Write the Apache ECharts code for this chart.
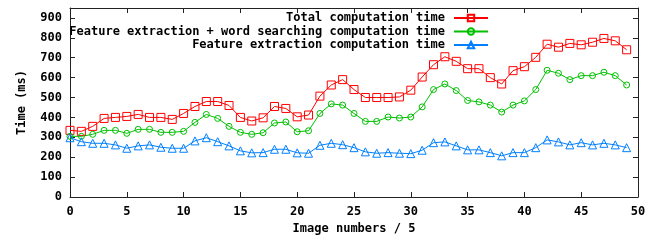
<!DOCTYPE html>
<html>
<head>
<meta charset="utf-8">
<script src="https://cdn.jsdelivr.net/npm/echarts@6/dist/echarts.min.js"></script>
<style>html,body{margin:0;padding:0;background:#fff}#c{width:667px;height:240px}</style>
</head>
<body>
<div id="c"></div>
<script>
const imageNumbers = [0,1,2,3,4,5,6,7,8,9,10,11,12,13,14,15,16,17,18,19,20,21,22,23,24,25,26,27,28,29,30,31,32,33,34,35,36,37,38,39,40,41,42,43,44,45,46,47,48,49];
const totalTime = [335,330,355,395,400,405,415,400,400,390,420,455,480,480,460,400,382,398,455,445,403,412,507,563,590,540,500,500,500,503,537,603,665,705,682,645,645,600,568,635,655,702,768,753,772,765,778,797,785,740];
const featWordTime = [305,305,315,335,335,320,340,340,325,325,330,375,415,395,355,325,315,323,372,377,328,333,420,468,462,420,380,380,402,397,402,453,540,568,535,485,478,462,427,462,483,540,637,622,590,610,610,627,610,563];
const featTime = [298,278,270,270,262,245,257,262,250,245,245,282,298,278,257,232,222,223,240,240,222,220,260,270,263,248,227,220,223,220,218,235,273,277,257,237,237,223,207,223,223,248,287,277,262,273,262,270,262,248];
const seriesNames = ['Total computation time','Feature extraction + word searching computation time','Feature extraction computation time'];
const xTicks = {min:0, max:50, interval:5};
const yTicks = {min:0, max:950, interval:100};

const FONT = '"DejaVu Sans Mono", "Liberation Mono", monospace';
const pairs = arr => imageNumbers.map((x,i)=>[x, arr[i]]);
const colors = ['#ff0000','#00c000','#0080ff'];
const symbols = ['rect','circle','triangle'];
const sizes = [8,6,8];
const datasets = [totalTime, featWordTime, featTime];

const axisLineStyle = {show:true, onZero:false, lineStyle:{color:'#222', width:1}};
const tickStyle = {show:true, inside:true, length:5, lineStyle:{color:'#222'}};
const labelFont = {fontFamily:FONT, fontWeight:'bold', fontSize:12, color:'#000'};

const chart = echarts.init(document.getElementById('c'), null, {renderer:'canvas'});
chart.setOption({
  animation:false,
  backgroundColor:'#fff',
  grid:{left:70, right:29, top:8, bottom:42},
  legend: seriesNames.map((n,i)=>({
    data:[n], orient:'vertical', align:'right', right:178, top:12+i*13.5, padding:0,
    itemWidth:34, itemHeight:8,
    textStyle:Object.assign({}, labelFont, {padding:[0,4,0,0]})
  })),
  xAxis:[
    {type:'value', min:xTicks.min, max:xTicks.max, interval:xTicks.interval, position:'bottom',
     name:'Image numbers / 5', nameLocation:'middle', nameGap:26,
     nameTextStyle:Object.assign({}, labelFont),
     axisLine:axisLineStyle, axisTick:tickStyle, splitLine:{show:false},
     axisLabel:Object.assign({margin:9}, labelFont)},
    {type:'value', min:xTicks.min, max:xTicks.max, interval:xTicks.interval, position:'top',
     axisLine:axisLineStyle, axisTick:tickStyle, splitLine:{show:false}, axisLabel:{show:false}}
  ],
  yAxis:[
    {type:'value', min:yTicks.min, max:yTicks.max, interval:yTicks.interval, position:'left',
     name:'Time (ms)', nameLocation:'middle', nameGap:42, nameRotate:90,
     nameTextStyle:Object.assign({}, labelFont),
     axisLine:axisLineStyle, axisTick:tickStyle, splitLine:{show:false},
     axisLabel:Object.assign({margin:8, showMaxLabel:false}, labelFont)},
    {type:'value', min:yTicks.min, max:yTicks.max, interval:yTicks.interval, position:'right',
     axisLine:axisLineStyle, axisTick:tickStyle, splitLine:{show:false}, axisLabel:{show:false}}
  ],
  series: datasets.map((d,i)=>({
    name:seriesNames[i], type:'line', xAxisIndex:0, yAxisIndex:0,
    data:pairs(d), symbol:symbols[i], symbolSize:sizes[i], showAllSymbol:true,
    lineStyle:{color:colors[i], width:1},
    itemStyle:{color:'rgba(255,255,255,0)', borderColor:colors[i], borderWidth:1},
    emphasis:{disabled:true}
  }))
});
</script>
</body>
</html>
